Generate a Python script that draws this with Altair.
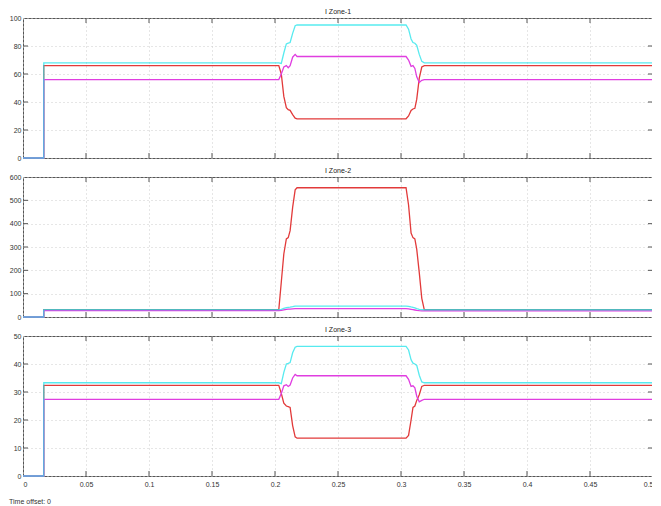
import altair as alt
import pandas as pd

# time samples (s)
t = [0, 0.0165, 0.0165, 0.203, 0.205, 0.207, 0.209, 0.2105, 0.212, 0.214, 0.216, 0.2175,
     0.304, 0.306, 0.308, 0.3095, 0.311, 0.3125, 0.3145, 0.3165, 0.3185, 0.5]

# I Zone-1
z1_cyan = [0, 0, 68, 68, 67.5, 75, 81.5, 82, 82.5, 89, 94.5, 95,
           95, 92, 85, 82.5, 82, 80.5, 74, 69, 68, 68]
z1_red = [0, 0, 66, 66, 60, 44, 36, 34.5, 34, 31, 28.5, 28,
          28, 30, 34, 35, 35.5, 42, 57, 65, 66, 66]
z1_mag = [0, 0, 56, 56, 60, 65, 66, 64.5, 66, 72, 74, 72.5,
          72.5, 70, 65.5, 66, 64, 58, 54, 55.5, 56, 56]

# I Zone-2
z2_cyan = [0, 0, 31.5, 31.5, 33, 37, 40, 41, 42, 44, 46.5, 47,
           47, 46, 43, 41, 39, 36, 33, 31.5, 31, 31]
z2_red = [0, 0, 31, 31, 150, 270, 335, 340, 370, 470, 545, 554,
          554, 480, 360, 340, 335, 290, 190, 80, 31, 31]
z2_mag = [0, 0, 27, 27, 28.5, 31, 33, 33.5, 34, 35, 35.7, 35.7,
          35.7, 35, 33, 31.5, 30, 28.5, 27, 26.5, 26.5, 26.5]

# I Zone-3
z3_cyan = [0, 0, 33.3, 33.3, 33, 37, 40, 40.2, 40.5, 44, 46, 46.3,
           46.3, 45, 41.5, 40.3, 40, 39.5, 36, 33.6, 33.3, 33.3]
z3_red = [0, 0, 32.4, 32.4, 29.5, 26, 25, 24.8, 24.5, 18, 14, 13.5,
          13.5, 14.5, 20, 24.5, 25, 27, 29, 32, 32.4, 32.4]
z3_mag = [0, 0, 27.4, 27.4, 29.5, 32.2, 32.6, 32, 32.5, 35, 36.3, 35.8,
          35.8, 34.5, 32, 32.2, 31.5, 28.5, 26.5, 27, 27.4, 27.4]

x_ticks = [0, 0.05, 0.1, 0.15, 0.2, 0.25, 0.3, 0.35, 0.4, 0.45, 0.5]
y1_ticks = [0, 20, 40, 60, 80, 100]
y2_ticks = [0, 100, 200, 300, 400, 500, 600]
y3_ticks = [0, 10, 20, 30, 40, 50]

titles = ["I Zone-1", "I Zone-2", "I Zone-3"]
time_offset_text = "Time offset: 0"

W, H = 630, 140
FRAME = "#555555"
GRID = "#cccccc"
FONT = "Liberation Sans"


def panel(title, red, mag, cyan, yticks, last):
    ymax = yticks[-1]
    xs = alt.Scale(domain=[0, 0.5], nice=False, zero=False)
    ys = alt.Scale(domain=[0, ymax], nice=False)
    xaxis = alt.Axis(values=x_ticks, grid=True, gridDash=[1, 3], gridColor=GRID,
                     ticks=False, domain=False, labels=last, labelExpr="'' + datum.value",
                     labelOverlap=False,
                     labelFontSize=7, labelPadding=4, labelColor="#333", labelFont=FONT,
                     title=None)
    yaxis = alt.Axis(values=yticks, grid=True, gridDash=[1, 3], gridColor=GRID,
                     ticks=False, domain=False, labelExpr="'' + datum.value",
                     labelOverlap=False,
                     labelFontSize=7, labelPadding=2, labelColor="#333", labelFont=FONT,
                     title=None)

    def line(vals, color, opacity):
        df = pd.DataFrame({"t": t, "v": vals, "i": list(range(len(t)))})
        return alt.Chart(df).mark_line(color=color, strokeWidth=1.3, strokeOpacity=opacity).encode(
            x=alt.X("t:Q", scale=xs, axis=xaxis),
            y=alt.Y("v:Q", scale=ys, axis=yaxis),
            order="i:Q",
        )

    xt = pd.DataFrame({"x": x_ticks[1:-1]})
    yt = pd.DataFrame({"y": yticks[1:-1]})
    tick_top = alt.Chart(xt).mark_rule(color=FRAME, strokeWidth=1).encode(
        x=alt.X("x:Q", scale=xs, axis=xaxis), y=alt.value(0), y2=alt.value(5))
    tick_bot = alt.Chart(xt).mark_rule(color=FRAME, strokeWidth=1).encode(
        x=alt.X("x:Q", scale=xs, axis=xaxis), y=alt.value(H - 5), y2=alt.value(H))
    tick_left = alt.Chart(yt).mark_rule(color=FRAME, strokeWidth=1).encode(
        y=alt.Y("y:Q", scale=ys, axis=yaxis), x=alt.value(0), x2=alt.value(5))
    tick_right = alt.Chart(yt).mark_rule(color=FRAME, strokeWidth=1).encode(
        y=alt.Y("y:Q", scale=ys, axis=yaxis), x=alt.value(W - 5), x2=alt.value(W))

    layers = [line(red, "#e23a3a", 1.0), line(mag, "#e03ee0", 1.0), line(cyan, "#1fe3ea", 0.75),
              tick_top, tick_bot, tick_left, tick_right]
    if last:
        txt = alt.Chart(pd.DataFrame({"s": [time_offset_text]})).mark_text(
            align="left", baseline="top", fontSize=7, font=FONT, color="#333").encode(
            x=alt.value(-14), y=alt.value(H + 22), text="s:N")
        layers.append(txt)
    return alt.layer(*layers).properties(
        width=W, height=H,
        title=alt.TitleParams(title, fontSize=7, font=FONT, fontWeight="normal",
                              color="#222", offset=-1, anchor="middle", frame="group"),
    )


chart = alt.vconcat(
    panel(titles[0], z1_red, z1_mag, z1_cyan, y1_ticks, False),
    panel(titles[1], z2_red, z2_mag, z2_cyan, y2_ticks, False),
    panel(titles[2], z3_red, z3_mag, z3_cyan, y3_ticks, True),
    spacing=4,
).properties(
    padding={"left": 0, "top": -1, "right": -5, "bottom": 0},
    background="white",
).configure_view(stroke=FRAME, strokeWidth=1)

chart.save("out.html", embed_options={"renderer": "svg", "actions": False})
